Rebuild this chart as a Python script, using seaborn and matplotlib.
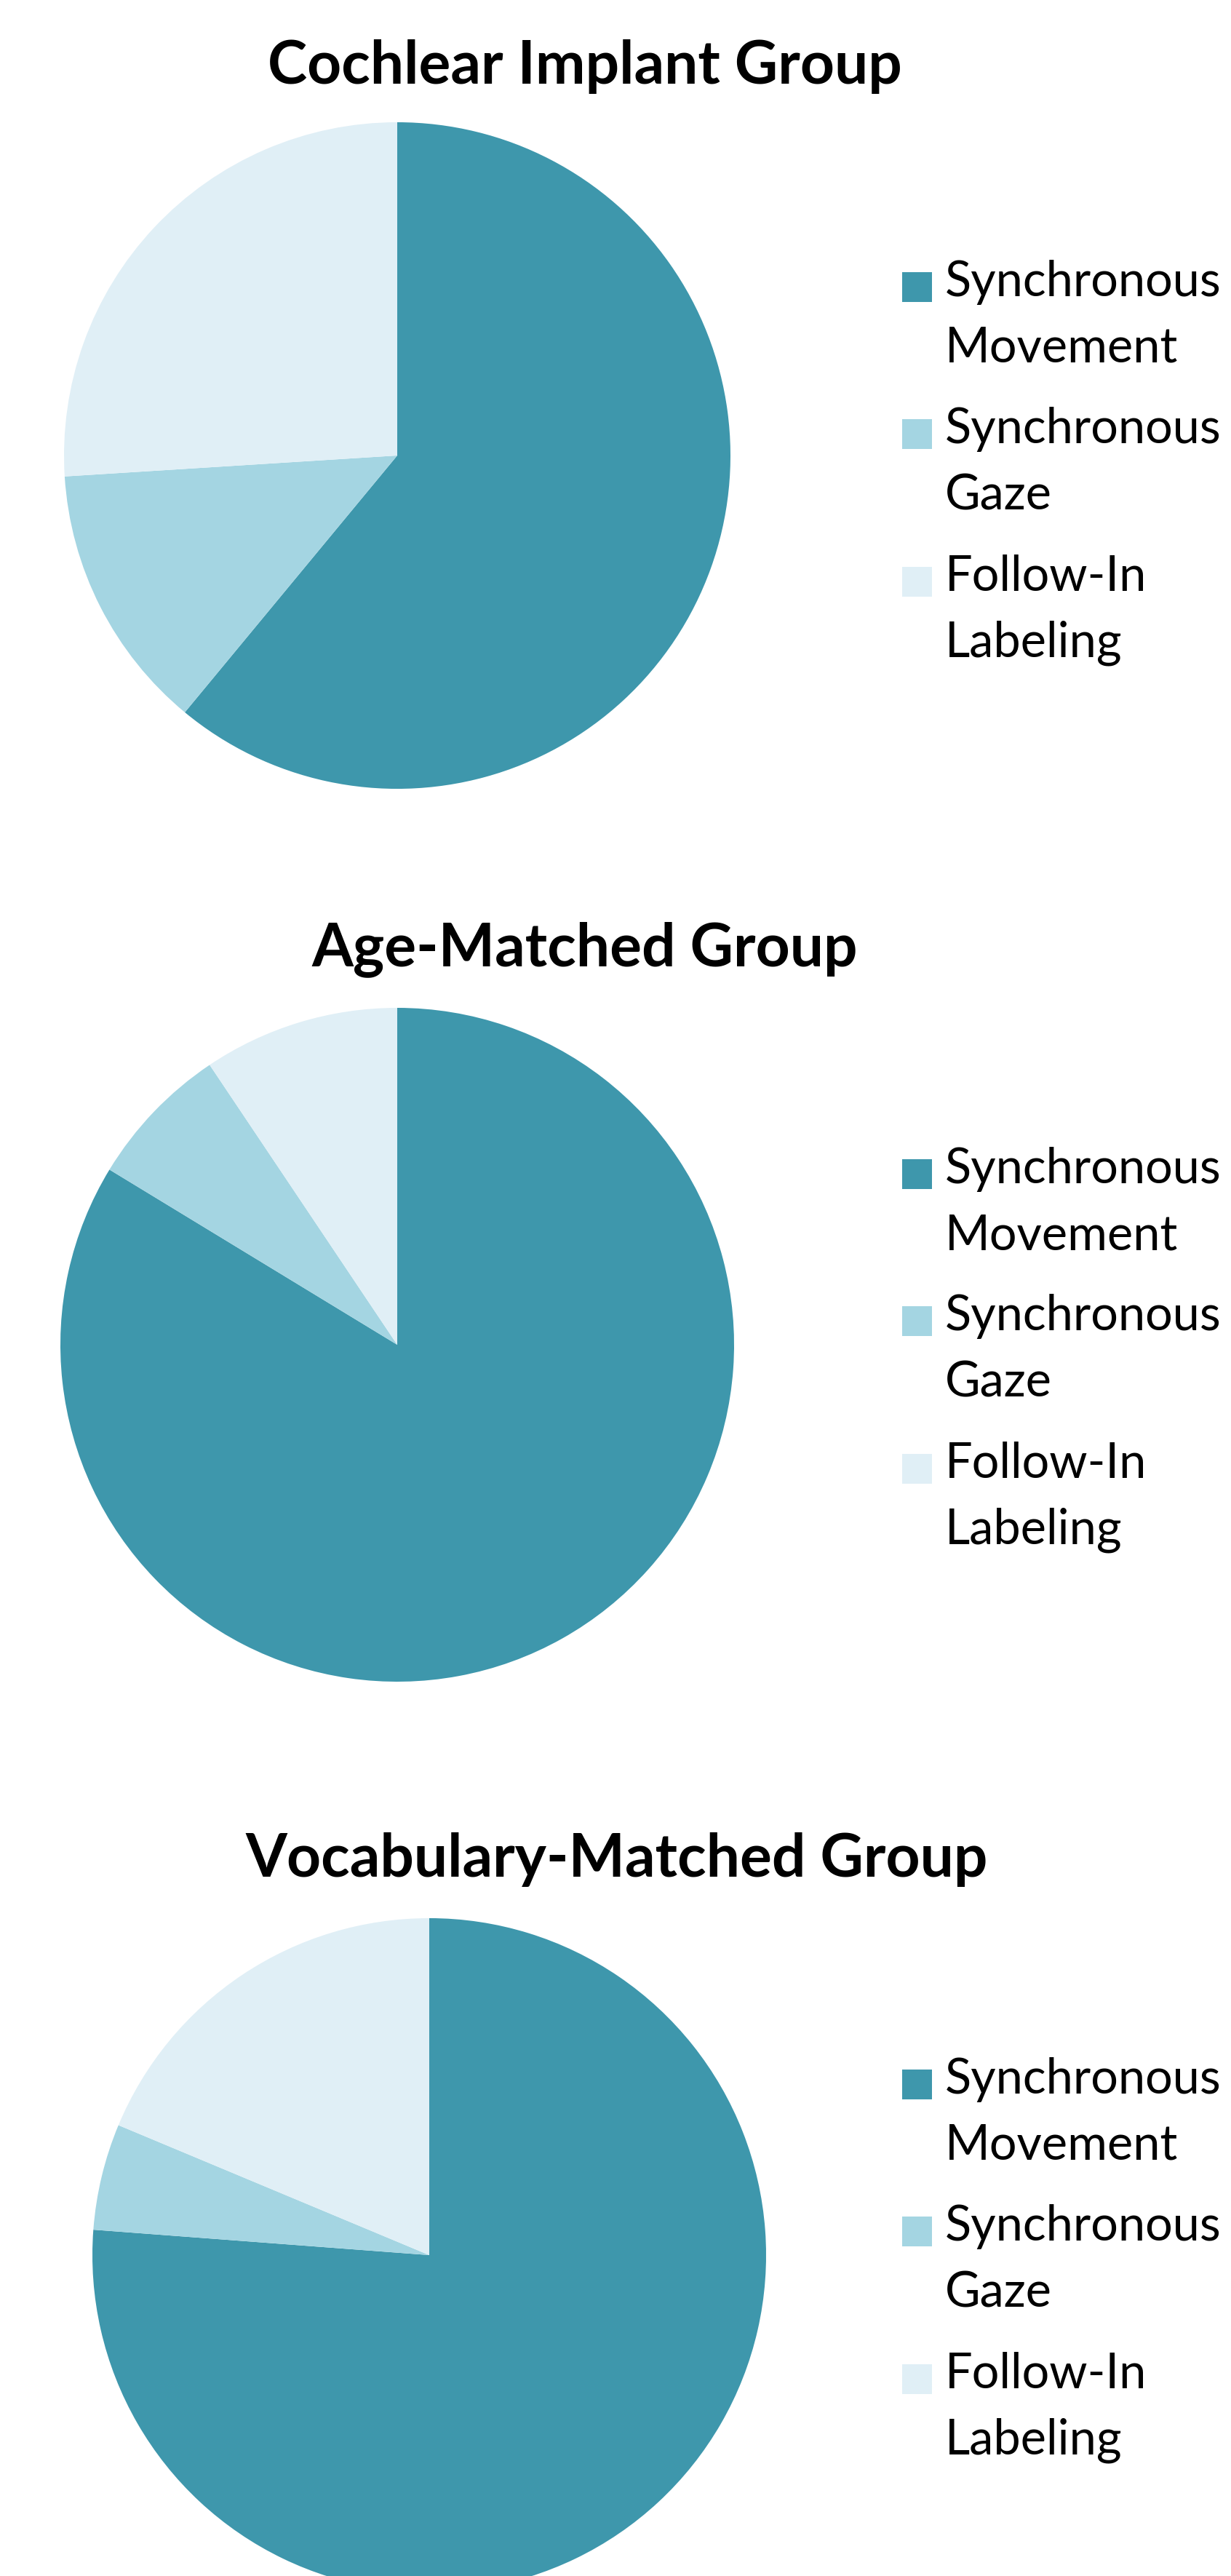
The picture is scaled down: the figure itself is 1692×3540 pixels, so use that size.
import matplotlib.pyplot as plt
import seaborn as sns
from matplotlib.patches import Rectangle
from matplotlib.legend_handler import HandlerPatch

# data (percent of episodes)
groups = ["Cochlear Implant Group", "Age-Matched Group", "Vocabulary-Matched Group"]
categories = ["Synchronous\nMovement", "Synchronous\nGaze", "Follow-In\nLabeling"]
ci_values = [61.0, 13.0, 26.0]
age_values = [83.7, 6.9, 9.4]
vocab_values = [76.2, 5.1, 18.7]
colors = ["#3e97ac", "#a4d5e2", "#e0eff6"]

W, H = 1692, 3541

sns.set_theme(style="white")
plt.rcParams["font.family"] = ["Lato", "DejaVu Sans"]
palette = sns.color_palette(colors)

fig = plt.figure(figsize=(W / 100, H / 100), dpi=100)

# pie centre x, centre y, radius, title centre x, title baseline, legend top  (pixels from top-left)
layout = [
    (546, 627, 458, 804, 115, 361),
    (546, 1849, 463, 804, 1327, 1580),
    (590, 3100, 463, 848, 2579, 2831),
]


class TopSquare(HandlerPatch):
    # square key lined up with the first line of a two-line label
    def create_artists(self, legend, orig_handle, xdescent, ydescent,
                       width, height, fontsize, trans):
        size = 0.62 * fontsize
        p = Rectangle((-xdescent, -ydescent + 0.61 * fontsize), size, size,
                      facecolor=orig_handle.get_facecolor(), edgecolor="none",
                      transform=trans)
        return [p]


for name, vals, (cx, cy, r, tx, ty, ly) in zip(groups, [ci_values, age_values, vocab_values], layout):
    ax = fig.add_axes([(cx - r) / W, 1 - (cy + r) / H, 2 * r / W, 2 * r / H])
    wedges, _ = ax.pie(vals, colors=palette, startangle=90, counterclock=False,
                       wedgeprops=dict(linewidth=0))
    ax.set_xlim(-1, 1)
    ax.set_ylim(-1, 1)
    ax.axis("off")

    fig.text(tx / W, 1 - ty / H, name, ha="center", va="baseline",
             fontsize=59, fontweight="bold", color="black")

    leg = ax.legend(wedges, categories, loc="upper left",
                    bbox_to_anchor=(1240 / W, 1 - (ly - 4) / H),
                    bbox_transform=fig.transFigure, frameon=False,
                    fontsize=48, borderpad=0, borderaxespad=0,
                    handlelength=0.62, handleheight=0.62, handletextpad=0.26,
                    labelspacing=0.74,
                    handler_map={w: TopSquare() for w in wedges})
    for t in leg.get_texts():
        t.set_linespacing(1.58)
        t.set_color("black")

fig.savefig("out.png", dpi=100, facecolor="white")
